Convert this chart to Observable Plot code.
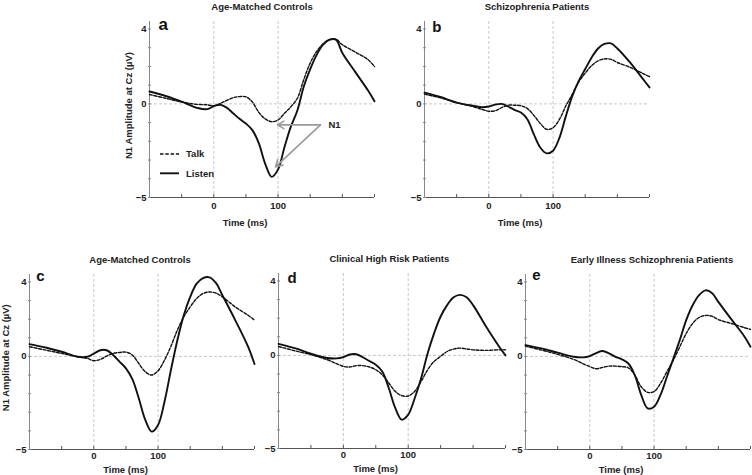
<!DOCTYPE html>
<html><head><meta charset="utf-8">
<script src="https://cdn.jsdelivr.net/npm/d3@7"></script>
<script src="https://cdn.jsdelivr.net/npm/@observablehq/plot@0.6"></script>
<style>
body{margin:0;background:#fff;}
#chart{position:relative;width:752px;height:475px;overflow:hidden;background:#fff;font-family:"Liberation Sans",Arial,sans-serif;}
#chart > div{position:absolute;}
#chart svg{overflow:visible;}
</style></head><body><div id="chart"></div>
<script>
// ---- data ----
const times = [-100,-75,-50,-25,-10,0,10,20,30,40,50,60,70,80,90,100,110,120,130,140,150,160,170,180,190,200,220,240,250];
const aListen = [0.66,0.42,0.12,-0.22,-0.28,-0.12,-0.05,-0.2,-0.5,-0.8,-1.05,-1.4,-2.1,-3.2,-3.9,-3.5,-2.3,-1.2,-0.35,0.93,1.86,2.62,3.16,3.43,3.43,2.72,1.71,0.71,0.14];
const aTalk   = [0.5,0.3,0.1,-0.03,-0.05,-0.1,0.02,0.18,0.33,0.39,0.38,0.1,-0.45,-0.8,-0.95,-0.86,-0.5,-0.15,0.3,1.3,2.18,2.8,3.21,3.43,3.45,3.16,2.77,2.36,2.0];
const bListen = [0.6,0.37,0.07,-0.1,-0.18,-0.14,-0.04,0,-0.14,-0.32,-0.46,-0.82,-1.62,-2.33,-2.64,-2.5,-1.8,-0.64,0.43,1.23,1.86,2.48,2.96,3.2,3.23,2.96,2.2,1.32,0.88];
const bTalk   = [0.52,0.32,0.07,-0.14,-0.3,-0.39,-0.37,-0.2,-0.07,-0.07,-0.1,-0.25,-0.61,-1.04,-1.36,-1.27,-0.82,-0.1,0.52,1.18,1.64,2.04,2.3,2.4,2.38,2.21,1.95,1.62,1.45];
const cListen = [0.66,0.48,0.25,-0.02,-0.02,0.15,0.33,0.33,0.08,-0.28,-0.64,-1.22,-2.25,-3.4,-4.04,-3.68,-2.43,-0.73,0.87,2.21,3.2,3.91,4.21,4.25,3.95,3.29,1.95,0.52,-0.41];
const cTalk   = [0.52,0.34,0.16,-0.02,-0.11,-0.23,-0.16,0.02,0.16,0.21,0.23,0.07,-0.38,-0.82,-1.0,-0.77,-0.2,0.55,1.41,2.13,2.66,3.11,3.38,3.46,3.4,3.2,2.66,2.21,1.95];
const dListen = [0.62,0.39,0.09,-0.14,-0.16,-0.09,0.05,0.06,-0.1,-0.3,-0.5,-0.86,-1.75,-2.82,-3.45,-3.18,-2.3,-1.21,0.12,1.2,2.09,2.7,3.12,3.25,3.12,2.7,1.55,0.48,0.0];
const dTalk   = [0.48,0.25,0.04,-0.23,-0.45,-0.59,-0.62,-0.55,-0.55,-0.62,-0.77,-1.04,-1.48,-1.93,-2.16,-2.18,-1.93,-1.39,-0.77,-0.32,-0.05,0.21,0.34,0.39,0.35,0.3,0.27,0.3,0.3];
const eListen = [0.61,0.43,0.2,-0.02,-0.05,0.02,0.18,0.29,0.16,-0.02,-0.16,-0.38,-1.0,-2.07,-2.79,-2.7,-2.07,-1.09,-0.11,0.88,1.95,2.75,3.29,3.55,3.41,2.93,2.0,1.1,0.52];
const eTalk   = [0.55,0.34,0.11,-0.16,-0.4,-0.55,-0.66,-0.59,-0.52,-0.52,-0.55,-0.61,-1.0,-1.63,-1.93,-1.89,-1.45,-0.82,-0.2,0.52,1.23,1.77,2.09,2.2,2.16,1.98,1.77,1.55,1.45];

const panelTitles = ["Age-Matched Controls","Schizophrenia Patients","Age-Matched Controls","Clinical High Risk Patients","Early Illness Schizophrenia Patients"];
const panelLetters = ["a","b","c","d","e"];
const conditions = ["Talk","Listen"];
const xTickValues = [-50,0,50,100,150,200,250];
const xTickLabels = [0,100];
const yTickValues = [-5,-4,-3,-2,-1,0,1,2,3,4];
const yTickLabels = [4,0,-5];
const gridTimes = [0,100];
const gridValues = [0];
const xDomain = [-100,250];
const yDomain = [-5,4.4];
const yAxisLabel = "N1 Amplitude at Cz (µV)";
const xAxisLabel = "Time (ms)";
const n1Label = ["N1"];
const n1Tail = {t:166, v:-1.12};
const n1Heads = [{t:99, v:-1.12},{t:96, v:-3.36}];

const series = [[aListen,aTalk],[bListen,bTalk],[cListen,cTalk],[dListen,dTalk],[eListen,eTalk]];

// ---- layout ----
const layout = [
  {left:100, top:0,   width:285, height:232, ml:49, mr:11, mt:21, mb:35, tDx:0,    tDy:-15, lDx:9,   lDy:8,    lSize:17, xDx:-17, xDy:25,   pad:5, yLabel:{dx:-17.3, dy:-4}, extras:true},
  {left:390, top:0,   width:280, height:232, ml:34, mr:21, mt:21, mb:35, tDx:0,    tDy:-15, lDx:7.7, lDy:10.7, lSize:15, xDx:-17, xDy:25,   pad:5},
  {left:0,   top:240, width:262, height:235, ml:29, mr:8,  mt:34, mb:26, tDx:-2,   tDy:-15, lDx:6.7, lDy:6,    lSize:15, xDx:-16.5, xDy:20, pad:3, yLabel:{dx:-20.7, dy:-4.3}},
  {left:262, top:240, width:250, height:235, ml:16, mr:7,  mt:33, mb:27, tDx:-2.7, tDy:-14.5, lDx:9, lDy:9.7,    lSize:15, xDx:-16.5, xDy:20.7, pad:3},
  {left:512, top:240, width:240, height:235, ml:13, mr:2,  mt:34, mb:26, tDx:14,   tDy:-15, lDx:6.7, lDy:5.3,  lSize:15, xDx:-17, xDy:20,   pad:3}
];

const chart = document.getElementById("chart");
const ink = "#111";
const gridColor = "#c9c9c9";

layout.forEach((L, k) => {
  const [listen, talk] = series[k];
  const rowsListen = times.map((t, i) => ({t, v: listen[i], cond: conditions[1]}));
  const rowsTalk = times.map((t, i) => ({t, v: talk[i], cond: conditions[0]}));
  const marks = [
    Plot.ruleX(gridTimes, {stroke: gridColor, strokeWidth: 1, strokeDasharray: "3,2"}),
    Plot.ruleY(gridValues, {stroke: gridColor, strokeWidth: 1, strokeDasharray: "3,2"}),
    Plot.ruleX([xDomain[0]], {stroke: "#888", strokeWidth: 1}),
    Plot.ruleY([yDomain[0]], {stroke: "#555", strokeWidth: 1}),
    Plot.ruleX(xTickValues, {y1: yDomain[0], y2: yDomain[0], insetTop: -3, stroke: "#555", strokeWidth: 1}),
    Plot.ruleY(yTickValues, {x1: xDomain[0], x2: xDomain[0], insetLeft: -1, insetRight: -2, stroke: "#888", strokeWidth: 1}),
    Plot.axisY(yTickLabels, {tickSize: 0, tickPadding: 3, label: null, fontSize: 9.5, fontWeight: "bold", fill: "#222"}),
    Plot.axisX(xTickLabels, {tickSize: 0, tickPadding: L.pad, label: null, fontSize: 9.5, fontWeight: "bold", fill: "#222"}),
    Plot.line(rowsTalk, {x: "t", y: "v", curve: "catmull-rom", stroke: ink, strokeWidth: 1.4, strokeDasharray: "3,1.6"}),
    Plot.line(rowsListen, {x: "t", y: "v", curve: "catmull-rom", stroke: ink, strokeWidth: 1.9}),
    Plot.text([panelTitles[k]], {frameAnchor: "top", dx: L.tDx, dy: L.tDy, lineAnchor: "middle", fontSize: 9.5, fontWeight: "bold", fill: "#222"}),
    Plot.text([panelLetters[k]], {frameAnchor: "top-left", dx: L.lDx, dy: L.lDy, textAnchor: "start", lineAnchor: "bottom", fontSize: L.lSize, fontWeight: "bold", fill: "#111"}),
    Plot.text([xAxisLabel], {frameAnchor: "bottom", dx: L.xDx, dy: L.xDy, lineAnchor: "middle", fontSize: 9.5, fontWeight: "bold", fill: "#222"})
  ];
  if (L.yLabel) {
    marks.push(Plot.text([yAxisLabel], {frameAnchor: "left", dx: L.yLabel.dx, dy: L.yLabel.dy, rotate: -90, textAnchor: "middle", lineAnchor: "bottom", fontSize: 9.5, fontWeight: "bold", fill: "#222"}));
  }
  if (L.extras) {
    marks.push(Plot.arrow(n1Heads, {x1: () => n1Tail.t, y1: () => n1Tail.v, x2: "t", y2: "v", stroke: "#9a9a9a", strokeWidth: 1.6, headLength: 7}));
    marks.push(Plot.text(n1Label, {x: n1Tail.t, y: n1Tail.v, dx: 8, textAnchor: "start", lineAnchor: "middle", fontSize: 9.5, fontWeight: "bold", fill: "#222"}));
  }
  const svg = Plot.plot({
    width: L.width, height: L.height,
    marginLeft: L.ml, marginRight: L.mr, marginTop: L.mt, marginBottom: L.mb,
    x: {domain: xDomain, axis: null},
    y: {domain: yDomain, axis: null},
    style: {background: "transparent", overflow: "visible", fontFamily: "'Liberation Sans', Arial, sans-serif", fontSize: "9.5px"},
    marks
  });
  const div = document.createElement("div");
  div.style.left = L.left + "px";
  div.style.top = L.top + "px";
  div.style.width = L.width + "px";
  div.style.height = L.height + "px";
  div.appendChild(svg);
  chart.appendChild(div);
});

// ---- legend (panel a) ----
const legendDiv = document.createElement("div");
legendDiv.style.left = "0px"; legendDiv.style.top = "0px";
chart.appendChild(legendDiv);
const lg = d3.select(legendDiv).append("svg").attr("width", 752).attr("height", 475)
  .style("font-family", "'Liberation Sans', Arial, sans-serif").style("font-size", "9.5px").style("font-weight", "bold");
const legendRows = [
  {label: conditions[0], dash: "3.5,1.8", width: 1.4, y: 154},
  {label: conditions[1], dash: null, width: 1.9, y: 173.3}
];
legendRows.forEach(r => {
  lg.append("line").attr("x1", 160).attr("x2", 179).attr("y1", r.y).attr("y2", r.y)
    .attr("stroke", ink).attr("stroke-width", r.width).attr("stroke-dasharray", r.dash);
  lg.append("text").attr("x", 186).attr("y", r.y).attr("dy", "0.34em").attr("fill", "#222").text(r.label);
});
</script></body></html>
